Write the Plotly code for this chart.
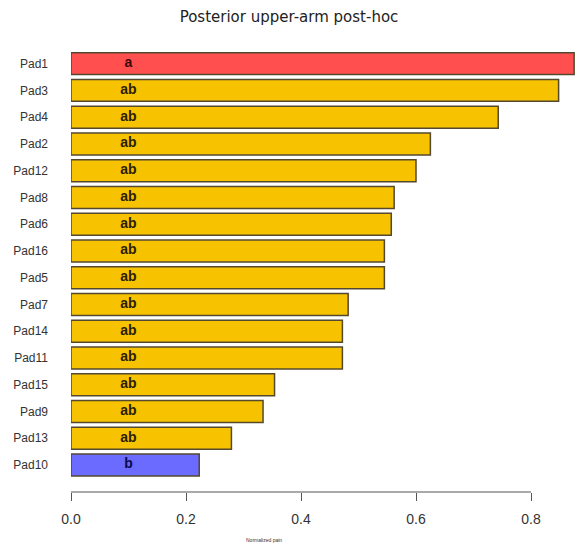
import plotly.graph_objects as go

pads = ["Pad1", "Pad3", "Pad4", "Pad2", "Pad12", "Pad8", "Pad6", "Pad16",
        "Pad5", "Pad7", "Pad14", "Pad11", "Pad15", "Pad9", "Pad13", "Pad10"]
values = [0.875, 0.848, 0.743, 0.625, 0.600, 0.562, 0.557, 0.545,
          0.545, 0.482, 0.472, 0.472, 0.354, 0.334, 0.279, 0.223]
groups = ["a", "ab", "ab", "ab", "ab", "ab", "ab", "ab",
          "ab", "ab", "ab", "ab", "ab", "ab", "ab", "b"]
x_ticks = [0.0, 0.2, 0.4, 0.6, 0.8]

bar_colors = {"a": "#FF4F4F", "ab": "#F7C300", "b": "#6B6BFF"}
text_colors = {"a": "#3a0808", "ab": "#2a2200", "b": "#0a0a4a"}
LABEL_X = 0.1

fig = go.Figure()
fig.add_trace(go.Bar(
    x=values, y=pads, orientation="h",
    marker=dict(color=[bar_colors[g] for g in groups],
                line=dict(color="#54492f", width=1.5)),
    width=0.82, hoverinfo="x+y", showlegend=False,
))
fig.add_trace(go.Scatter(
    x=[LABEL_X] * len(pads), y=pads, mode="text", text=groups,
    textfont=dict(family="Liberation Sans, Arial", size=14,
                  color=[text_colors[g] for g in groups], weight="bold"),
    textposition="middle center", hoverinfo="skip", showlegend=False,
))

# R-style axis line spanning only the tick range
fig.add_shape(type="line", xref="x", yref="paper",
              x0=x_ticks[0], x1=x_ticks[-1], y0=0, y1=0,
              line=dict(color="#555555", width=1))

fig.add_annotation(text="Normalized pain", xref="paper", yref="paper",
                   x=0.383, y=-0.1086, xanchor="center", yanchor="middle",
                   showarrow=False,
                   font=dict(family="Liberation Sans, Arial", size=5, color="#333333"))

fig.update_layout(
    width=575, height=543,
    margin=dict(l=71, r=0, t=50, b=51, autoexpand=False),
    paper_bgcolor="white", plot_bgcolor="white",
    title=dict(text="Posterior upper-arm post-hoc",
               x=0.5026, xanchor="center", xref="container",
               y=1 - 17 / 543, yanchor="middle", yref="container",
               font=dict(family="DejaVu Sans", size=15, color="#222222")),
    xaxis=dict(range=[0, 504 / 575], tickvals=x_ticks, tickformat=".1f",
               ticks="outside", ticklen=8, tickcolor="#555555", tickwidth=1,
               ticklabelstandoff=6,
               showline=False, showgrid=False, zeroline=False, automargin=False,
               tickfont=dict(family="Liberation Sans, Arial", size=14, color="#333333")),
    yaxis=dict(categoryorder="array", categoryarray=pads,
               range=[16.01, -0.51], showline=False, showgrid=False,
               zeroline=False, ticks="", ticklabelstandoff=22, automargin=False,
               tickfont=dict(family="Liberation Sans, Arial", size=12, color="#333333")),
)

fig.write_html("out.html", config={"displayModeBar": False},
               post_script="document.body.style.margin='0px';document.body.style.overflow='hidden';")
